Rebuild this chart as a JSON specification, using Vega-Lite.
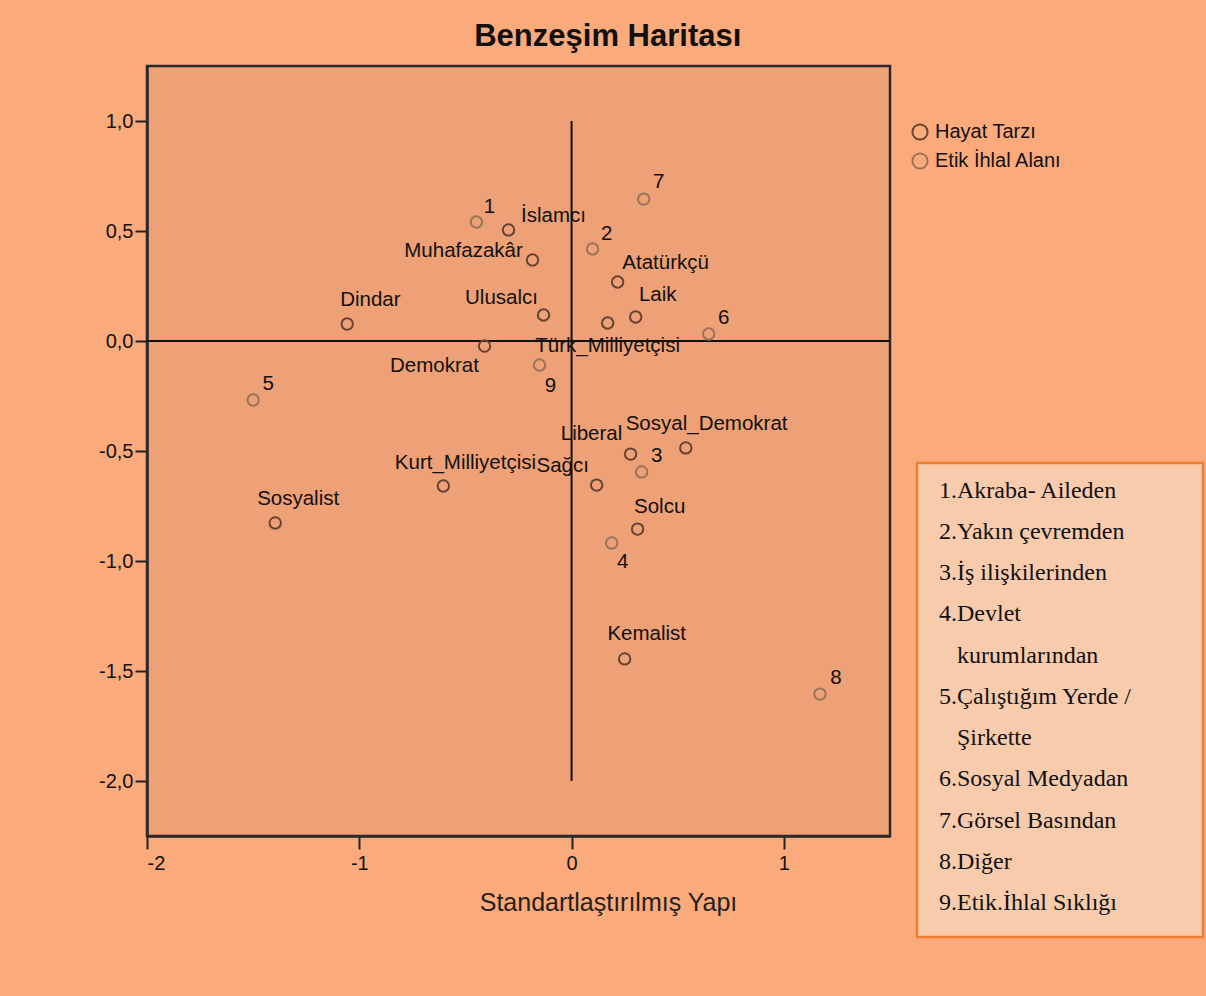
{
  "$schema": "https://vega.github.io/schema/vega-lite/v6.json",
  "background": "#FBAA7C",
  "padding": {"left": 97, "top": 20, "right": 2, "bottom": 58},
  "title": {"text": "Benzeşim Haritası", "fontSize": 31, "font": "Liberation Sans", "fontWeight": "bold", "color": "#111111", "offset": 12, "anchor": "middle", "dx": -43},
  "datasets": {
    "points": [
      {"name": "İslamcı", "series": "Hayat Tarzı", "x": -0.297, "y": 0.505, "lx": -0.085, "ly": 0.568},
      {"name": "Muhafazakâr", "series": "Hayat Tarzı", "x": -0.184, "y": 0.368, "lx": -0.509, "ly": 0.409},
      {"name": "Atatürkçü", "series": "Hayat Tarzı", "x": 0.217, "y": 0.268, "lx": 0.443, "ly": 0.355},
      {"name": "Laik", "series": "Hayat Tarzı", "x": 0.302, "y": 0.109, "lx": 0.406, "ly": 0.209},
      {"name": "Türk_Milliyetçisi", "series": "Hayat Tarzı", "x": 0.170, "y": 0.082, "lx": 0.170, "ly": -0.023},
      {"name": "Dindar", "series": "Hayat Tarzı", "x": -1.057, "y": 0.077, "lx": -0.948, "ly": 0.186},
      {"name": "Ulusalcı", "series": "Hayat Tarzı", "x": -0.132, "y": 0.118, "lx": -0.330, "ly": 0.195},
      {"name": "Demokrat", "series": "Hayat Tarzı", "x": -0.410, "y": -0.023, "lx": -0.646, "ly": -0.114},
      {"name": "Sosyalist", "series": "Hayat Tarzı", "x": -1.396, "y": -0.827, "lx": -1.288, "ly": -0.718},
      {"name": "Kurt_Milliyetçisi", "series": "Hayat Tarzı", "x": -0.604, "y": -0.659, "lx": -0.500, "ly": -0.555},
      {"name": "Sağcı", "series": "Hayat Tarzı", "x": 0.118, "y": -0.655, "lx": -0.042, "ly": -0.568},
      {"name": "Liberal", "series": "Hayat Tarzı", "x": 0.278, "y": -0.514, "lx": 0.094, "ly": -0.423},
      {"name": "Sosyal_Demokrat", "series": "Hayat Tarzı", "x": 0.538, "y": -0.486, "lx": 0.636, "ly": -0.377},
      {"name": "Solcu", "series": "Hayat Tarzı", "x": 0.311, "y": -0.855, "lx": 0.415, "ly": -0.755},
      {"name": "Kemalist", "series": "Hayat Tarzı", "x": 0.250, "y": -1.445, "lx": 0.354, "ly": -1.332},
      {"name": "1", "series": "Etik İhlal Alanı", "x": -0.448, "y": 0.541, "lx": -0.387, "ly": 0.609},
      {"name": "2", "series": "Etik İhlal Alanı", "x": 0.099, "y": 0.418, "lx": 0.165, "ly": 0.486},
      {"name": "3", "series": "Etik İhlal Alanı", "x": 0.330, "y": -0.595, "lx": 0.401, "ly": -0.523},
      {"name": "4", "series": "Etik İhlal Alanı", "x": 0.189, "y": -0.918, "lx": 0.241, "ly": -1.005},
      {"name": "5", "series": "Etik İhlal Alanı", "x": -1.500, "y": -0.268, "lx": -1.429, "ly": -0.195},
      {"name": "6", "series": "Etik İhlal Alanı", "x": 0.646, "y": 0.032, "lx": 0.717, "ly": 0.105},
      {"name": "7", "series": "Etik İhlal Alanı", "x": 0.340, "y": 0.645, "lx": 0.410, "ly": 0.723},
      {"name": "8", "series": "Etik İhlal Alanı", "x": 1.170, "y": -1.605, "lx": 1.245, "ly": -1.532},
      {"name": "9", "series": "Etik İhlal Alanı", "x": -0.151, "y": -0.109, "lx": -0.099, "ly": -0.205}
    ],
    "items": [
      {"line": 1, "text": "1.Akraba- Aileden"},
      {"line": 2, "text": "2.Yakın çevremden"},
      {"line": 3, "text": "3.İş ilişkilerinden"},
      {"line": 4, "text": "4.Devlet"},
      {"line": 5, "text": "\u200b\u2002\u2005kurumlarından"},
      {"line": 6, "text": "5.Çalıştığım Yerde /"},
      {"line": 7, "text": "\u200b\u2002\u2005Şirkette"},
      {"line": 8, "text": "6.Sosyal Medyadan"},
      {"line": 9, "text": "7.Görsel Basından"},
      {"line": 10, "text": "8.Diğer"},
      {"line": 11, "text": "9.Etik.İhlal Sıklığı"}
    ]
  },
  "spacing": 22,
  "hconcat": [
    {
      "width": 743,
      "height": 770,
      "view": {"fill": "#EEA077", "stroke": "#2A2A2A", "strokeWidth": 2.5},
      "layer": [
        {
          "data": {"values": [{}]},
          "mark": {"type": "rule", "color": "#111111", "strokeWidth": 2},
          "encoding": {"x": {"datum": 0}, "y": {"datum": 1}, "y2": {"datum": -2}}
        },
        {
          "data": {"values": [{}]},
          "mark": {"type": "rule", "color": "#111111", "strokeWidth": 2},
          "encoding": {"y": {"datum": 0}}
        },
        {
          "data": {"name": "points"},
          "mark": {"type": "point", "shape": "circle", "filled": false, "size": 130, "strokeWidth": 2, "opacity": 1},
          "encoding": {
            "x": {"field": "x", "type": "quantitative", "scale": {"domain": [-2, 1.5], "nice": false, "zero": false},
                  "axis": {"values": [-2, -1, 0, 1], "title": "Standartlaştırılmış Yapı", "titleX": 461, "titlePadding": 17, "titleFontSize": 25, "tickSize": 13, "labelPadding": 4, "labelExpr": "replace(format(datum.value, 'd'), '−', '-')"}},
            "y": {"field": "y", "type": "quantitative", "scale": {"domain": [-2.25, 1.25], "nice": false, "zero": false},
                  "axis": {"values": [-2, -1.5, -1, -0.5, 0, 0.5, 1], "title": null, "tickSize": 12, "labelPadding": 2, "labelExpr": "replace(replace(format(datum.value, '.1f'), '.', ','), '−', '-')"}},
            "color": {"field": "series", "type": "nominal",
                      "scale": {"domain": ["Hayat Tarzı", "Etik İhlal Alanı"], "range": ["#664430", "#9A7358"]},
                      "legend": {"orient": "none", "legendX": 763, "legendY": 56, "title": null}}
          }
        },
        {
          "data": {"name": "points"},
          "mark": {"type": "text", "fontSize": 20.5, "font": "Liberation Sans", "color": "#111111", "align": "center", "baseline": "middle"},
          "encoding": {
            "x": {"field": "lx", "type": "quantitative"},
            "y": {"field": "ly", "type": "quantitative"},
            "text": {"field": "name"}
          }
        }
      ]
    },
    {
      "spacing": 20,
      "vconcat": [
        {
          "width": 286,
          "height": 375,
          "data": {"values": []},
          "view": {"stroke": null, "fill": null},
          "mark": "point"
        },
        {
          "width": 286,
          "height": 474,
          "data": {"name": "items"},
          "view": {"fill": "#F8CBAD", "stroke": "#ED7D31", "strokeWidth": 2.5},
          "mark": {"type": "text", "align": "left", "baseline": "middle", "font": "Liberation Serif", "fontSize": 24, "color": "#111111", "dx": 22},
          "encoding": {
            "y": {"field": "line", "type": "ordinal", "bandPosition": 0.5, "scale": {"type": "band", "paddingInner": 0, "paddingOuter": 0.25, "align": 0.35}, "axis": null},
            "x": {"datum": 0, "scale": {"domain": [0, 1]}, "axis": null},
            "text": {"field": "text"}
          }
        }
      ]
    }
  ],
  "config": {
    "font": "Liberation Sans",
    "axis": {"labelFont": "Liberation Sans", "labelFontSize": 20, "labelColor": "#111111", "titleFont": "Liberation Sans", "titleFontSize": 24, "titleFontWeight": "normal", "titleColor": "#222222", "tickColor": "#222222", "tickWidth": 2, "domainColor": "#2A2A2A", "domainWidth": 2.5, "grid": false},
    "legend": {"labelFont": "Liberation Sans", "labelFontSize": 20, "labelColor": "#111111", "symbolType": "circle", "symbolSize": 230, "symbolStrokeWidth": 2, "rowPadding": 5, "labelOffset": 5}
  }
}
